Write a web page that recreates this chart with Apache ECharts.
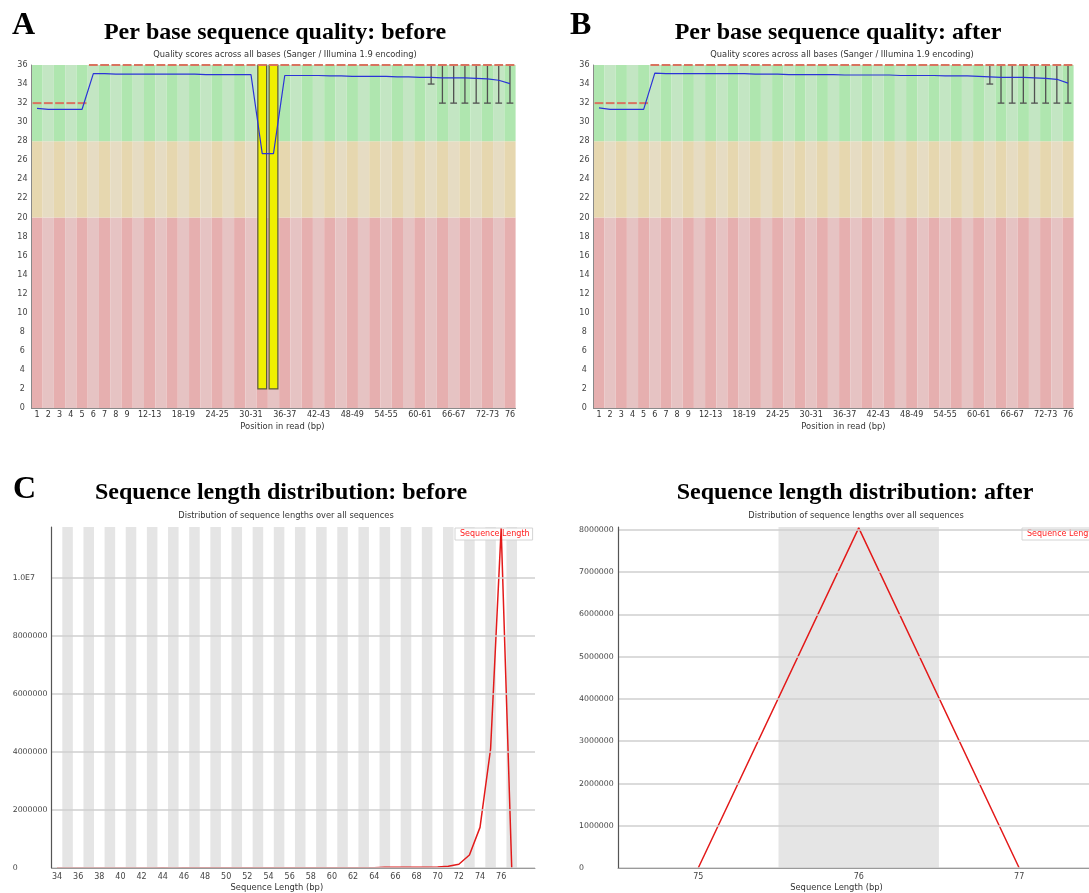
<!DOCTYPE html>
<html><head><meta charset="utf-8">
<script src="https://cdn.jsdelivr.net/npm/echarts@6/dist/echarts.min.js"></script>
<style>html,body{margin:0;padding:0;background:#fff}#c{width:1089px;height:893px}</style>
</head><body><div id="c"></div>
<script>
// ---------- Panels A / B : per base sequence quality ----------
const positions = ['1','2','3','4','5','6','7','8','9','10-11','12-13','14-15','16-17','18-19','20-21','22-23','24-25','26-27','28-29','30-31','32-33','34-35','36-37','38-39','40-41','42-43','44-45','46-47','48-49','50-51','52-53','54-55','56-57','58-59','60-61','62-63','64-65','66-67','68-69','70-71','72-73','74-75','76'];
const zoneLimits = [20, 28, 36];           // poor / reasonable / good quality bands
const meanBefore = [31.45,31.35,31.35,31.35,31.35,35.1,35.1,35.05,35.05,35.05,
  35.05,35.05,35.05,35.05,35.05,35.0,35.0,35.0,35.0,35.0,
  26.7,26.7,34.9,34.9,34.9,34.9,34.85,34.85,34.8,34.8,
  34.8,34.8,34.75,34.75,34.7,34.7,34.65,34.65,34.65,34.6,
  34.55,34.4,34.05];
const meanAfter = [31.5,31.35,31.35,31.35,31.35,35.15,35.1,35.1,35.1,35.1,
  35.1,35.1,35.1,35.1,35.05,35.05,35.05,35.0,35.0,35.0,
  35.0,35.0,34.95,34.95,34.95,34.95,34.95,34.9,34.9,34.9,
  34.9,34.85,34.85,34.85,34.8,34.75,34.7,34.7,34.7,34.65,
  34.6,34.5,34.1];
const medianQ = [32,32,32,32,32,36,36,36,36,36,
  36,36,36,36,36,36,36,36,36,36,
  36,36,36,36,36,36,36,36,36,36,
  36,36,36,36,36,36,36,36,36,36,
  36,36,36];
const upperQuartile = [32,32,32,32,32,36,36,36,36,36,
  36,36,36,36,36,36,36,36,36,36,
  36,36,36,36,36,36,36,36,36,36,
  36,36,36,36,36,36,36,36,36,36,
  36,36,36];
const p90 = [32,32,32,32,32,36,36,36,36,36,
  36,36,36,36,36,36,36,36,36,36,
  36,36,36,36,36,36,36,36,36,36,
  36,36,36,36,36,36,36,36,36,36,
  36,36,36];
const lowerQuartileBefore = [32,32,32,32,32,36,36,36,36,36,
  36,36,36,36,36,36,36,36,36,36,
  2,2,36,36,36,36,36,36,36,36,
  36,36,36,36,36,36,36,36,36,36,
  36,36,36];
const p10Before = [32,32,32,32,32,36,36,36,36,36,
  36,36,36,36,36,36,36,36,36,36,
  2,2,36,36,36,36,36,36,36,36,
  36,36,36,36,36,34,32,32,32,32,
  32,32,32];
const lowerQuartileAfter = [32,32,32,32,32,36,36,36,36,36,
  36,36,36,36,36,36,36,36,36,36,
  36,36,36,36,36,36,36,36,36,36,
  36,36,36,36,36,36,36,36,36,36,
  36,36,36];
const p10After = [32,32,32,32,32,36,36,36,36,36,
  36,36,36,36,36,36,36,36,36,36,
  36,36,36,36,36,36,36,36,36,36,
  36,36,36,36,36,34,32,32,32,32,
  32,32,32];

// ---------- Panels C / D : sequence length distribution ----------
const lengthsBefore = [34,35,36,37,38,39,40,41,42,43,44,45,46,47,48,49,50,51,52,53,54,55,56,57,58,59,60,61,62,63,64,65,66,67,68,69,70,71,72,73,74,75,76,77];
const countsBefore = [4000,3000,3500,3000,3500,3000,4000,3500,4000,4000,
  4500,4000,4500,5000,5000,5000,5500,5500,6000,6000,
  6500,6500,7000,7500,8000,8000,9000,9500,10000,11000,
  12000,30000,25000,24000,25000,28000,35000,60000,130000,450000,
  1400000,4100000,11700000,0];
const lengthsAfter = [75,76,77];
const countsAfter = [0,8050000,0];

const zoneColors = [['#e6afaf','#e6c3c3'],['#e6d7af','#e6dcc3'],['#afe6af','#c3e6c3']];
const FONT = 'DejaVu Sans';

function renderBox(params, api) {
  const i = api.value(0);
  const w = api.size([1, 0])[0];
  const lo = api.value(1), q1 = api.value(2), med = api.value(3), q3 = api.value(4), hi = api.value(5);
  const cx = api.coord([i, med])[0];
  const y = v => api.coord([i, v])[1];
  const kids = [];
  const ws = {stroke: '#505050', lineWidth: 1.3};
  if (lo < q1) {
    kids.push({type:'line', shape:{x1:cx, y1:y(lo), x2:cx, y2:y(q1)}, style:ws});
    kids.push({type:'line', shape:{x1:cx-0.3*w, y1:y(lo), x2:cx+0.3*w, y2:y(lo)}, style:ws});
  }
  if (hi > q3) {
    kids.push({type:'line', shape:{x1:cx, y1:y(q3), x2:cx, y2:y(hi)}, style:ws});
    kids.push({type:'line', shape:{x1:cx-0.3*w, y1:y(hi), x2:cx+0.3*w, y2:y(hi)}, style:ws});
  }
  if (q3 > q1) {
    kids.push({type:'rect', shape:{x:cx-0.39*w, y:y(q3), width:0.78*w, height:y(q1)-y(q3)},
      style:{fill:'#f0f000', stroke:'#5a5a3a', lineWidth:1.2}});
  }
  kids.push({type:'line', shape:{x1:cx-0.39*w, y1:y(med), x2:cx+0.39*w, y2:y(med)},
    style:{stroke:'#d9735f', lineWidth:2}});
  return {type:'group', children:kids};
}

function qualitySeries(gi, mean, lo, q1, med, q3, hi) {
  const s = [];
  let prev = 0;
  zoneLimits.forEach((lim, z) => {
    const h = lim - prev; prev = lim;
    s.push({type:'bar', xAxisIndex:gi, yAxisIndex:gi, stack:'zones' + gi, barCategoryGap:'0%',
      silent:true, data: positions.map((p, i) => ({value:h, itemStyle:{color: zoneColors[z][i % 2]}}))});
  });
  s.push({type:'custom', xAxisIndex:gi, yAxisIndex:gi, silent:true, renderItem:renderBox, z:3,
    encode:{x:0, y:[1,2,3,4,5]},
    data: positions.map((p, i) => [i, lo[i], q1[i], med[i], q3[i], hi[i]])});
  s.push({type:'line', xAxisIndex:gi, yAxisIndex:gi, silent:true, data:mean, symbol:'none', z:4,
    lineStyle:{color:'#2b33d8', width:1.2}});
  return s;
}

const showPosLabel = (idx) => idx < 9 || idx === positions.length - 1 || (idx >= 10 && (idx - 10) % 3 === 0);

function qualityX(gi, shift) {
  return {gridIndex:gi, type:'category', data:positions, z:5,
    axisLine:{lineStyle:{color:'#8a8a8a', width:1}}, axisTick:{show:false},
    axisLabel:{interval:(idx) => showPosLabel(idx), fontSize:8, color:'#333', margin:3, fontFamily:FONT},
    name:'Position in read (bp)', nameLocation:'middle', nameGap:15,
    nameTextStyle:{fontSize:8.4, color:'#333', fontFamily:FONT, padding:[0,0,0,shift]}};
}
function qualityY(gi) {
  return {gridIndex:gi, type:'value', min:0, max:36, interval:2, z:5,
    axisLine:{show:true, lineStyle:{color:'#8a8a8a', width:1}}, axisTick:{show:false}, splitLine:{show:false},
    axisLabel:{fontSize:8, color:'#444', align:'center', margin:9, fontFamily:FONT}};
}

function sciLabel(v) {
  if (v >= 1e7) { const e = Math.floor(Math.log10(v)); return (v / Math.pow(10, e)).toFixed(1) + 'E' + e; }
  return String(v);
}
const stripes = (lengths) => lengths.filter((l, i) => i % 2 === 1).map(l => [{xAxis:l - 0.5}, {xAxis:l + 0.5}]);

function lengthX(gi, lengths, min, max, shift, labels) {
  return {gridIndex:gi, type:'value', min:min, max:max, z:5,
    axisLine:{lineStyle:{color:'#9a9a9a', width:1}}, axisTick:{show:false}, splitLine:{show:false},
    axisLabel:{customValues:labels, fontSize:8, color:'#444', margin:5, fontFamily:FONT},
    name:'Sequence Length (bp)', nameLocation:'middle', nameGap:16,
    nameTextStyle:{fontSize:8.4, color:'#333', fontFamily:FONT, padding:[0,shift,0,0]}};
}
function lengthY(gi, max, interval) {
  return {gridIndex:gi, type:'value', min:0, max:max, interval:interval, z:5,
    axisLine:{show:true, lineStyle:{color:'#555', width:1.2}}, axisTick:{show:false},
    splitLine:{show:true, showMaxLine:false, lineStyle:{color:'#cfcfcf', width:1.5}},
    axisLabel:{formatter:sciLabel, showMaxLabel:false, fontSize:7.8, color:'#444', align:'left', margin:39, fontFamily:FONT}};
}
function lengthSeries(gi, lengths, counts) {
  return {type:'line', name:'Sequence Length', xAxisIndex:gi, yAxisIndex:gi, silent:true, symbol:'none',
    data: lengths.map((l, i) => [l, counts[i]]), lineStyle:{color:'#e31a1a', width:1.5}, z:4,
    markArea:{silent:true, itemStyle:{color:'rgba(0,0,0,0.1)'}, data:stripes(lengths)}};
}

const legendBase = {data:['Sequence Length'], top:528, icon:'rect', itemWidth:0, itemHeight:0, itemGap:0,
  padding:[2,3,2,0], borderColor:'#d4d4d4', borderWidth:1, backgroundColor:'rgba(255,255,255,0.85)', selectedMode:false,
  textStyle:{color:'#ff2020', fontSize:8, fontFamily:FONT}};

function txt(x, y, text, font, fill) {
  return {type:'text', x:x, y:y, silent:true, style:{text:text, font:font, fill:fill || '#000', align:'center', verticalAlign:'middle'}};
}
const TITLE = 'bold 24px "Liberation Serif"';
const LETTER = 'bold 32px "Liberation Serif"';
const SUB = '8.3px "DejaVu Sans"';

const evenBefore = lengthsBefore.filter(l => l % 2 === 0);

const option = {
  animation:false,
  grid:[
    {left:31.4, top:65, width:484.2, height:343},
    {left:593.4, top:65, width:480.2, height:343},
    {left:51.7, top:527, width:483.3, height:342},
    {left:618, top:527, width:471, height:342}
  ],
  xAxis:[
    qualityX(0, 18), qualityX(1, 20),
    lengthX(2, lengthsBefore, 33.5, 79.2, 33, evenBefore),
    lengthX(3, lengthsAfter, 74.5, 77.435, 34, lengthsAfter)
  ],
  yAxis:[qualityY(0), qualityY(1), lengthY(2, 11750000, 2000000), lengthY(3, 8070000, 1000000)],
  legend:[Object.assign({left:455}, legendBase), Object.assign({left:1022}, legendBase)],
  series:[].concat(
    qualitySeries(0, meanBefore, p10Before, lowerQuartileBefore, medianQ, upperQuartile, p90),
    qualitySeries(1, meanAfter, p10After, lowerQuartileAfter, medianQ, upperQuartile, p90),
    [lengthSeries(2, lengthsBefore, countsBefore), lengthSeries(3, lengthsAfter, countsAfter)]
  ),
  graphic:[
    {type:'text', x:12, y:26, silent:true, style:{text:'A', font:LETTER, fill:'#000', align:'left', verticalAlign:'middle'}},
    {type:'text', x:570, y:26, silent:true, style:{text:'B', font:LETTER, fill:'#000', align:'left', verticalAlign:'middle'}},
    {type:'text', x:13, y:490, silent:true, style:{text:'C', font:LETTER, fill:'#000', align:'left', verticalAlign:'middle'}},
    txt(275, 33, 'Per base sequence quality: before', TITLE),
    txt(838, 33, 'Per base sequence quality: after', TITLE),
    txt(281, 493, 'Sequence length distribution: before', TITLE),
    txt(855, 493, 'Sequence length distribution: after', TITLE),
    txt(285, 55, 'Quality scores across all bases (Sanger / Illumina 1.9 encoding)', SUB, '#333'),
    txt(842, 55, 'Quality scores across all bases (Sanger / Illumina 1.9 encoding)', SUB, '#333'),
    txt(286, 516, 'Distribution of sequence lengths over all sequences', SUB, '#333'),
    txt(856, 516, 'Distribution of sequence lengths over all sequences', SUB, '#333')
  ]
};
const chart = echarts.init(document.getElementById('c'), null, {renderer:'canvas'});
chart.setOption(option);
</script>
</body></html>
